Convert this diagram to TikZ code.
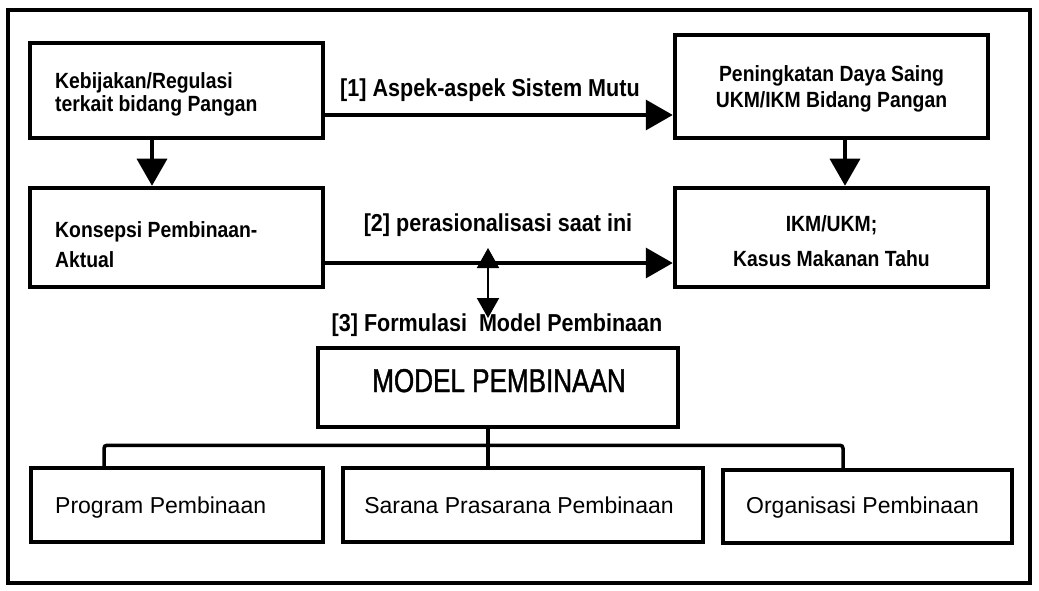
\documentclass[tikz,border=0pt]{standalone}
\usepackage{fontspec}
\setmainfont{Liberation Sans}
\newfontfamily\lab{Liberation Sans}[FakeStretch=0.88]
\newfontfamily\mdl{Liberation Sans}[FakeStretch=0.79,FakeBold=1.2]
\usetikzlibrary{arrows.meta,calc}
\begin{document}
\begin{tikzpicture}[x=1pt,y=-1pt,
  topbox/.style={draw=black,line width=4.5pt,inner sep=0pt},
  botbox/.style={draw=black,line width=3.5pt,inner sep=0pt},
  arr/.style={line width=3.5pt,-{Triangle[width=30pt,length=27pt]}},
  dblarr/.style={line width=2pt,{Triangle[width=22pt,length=20pt]}-{Triangle[width=22pt,length=20pt]}},
  tree/.style={line width=3.5pt},
  lbl/.style={inner sep=0pt,anchor=base,font=\lab\bfseries\fontsize{24.5}{28}\selectfont},
  btxt/.style={inner sep=0pt},
  rtxt/.style={inner sep=0pt,anchor=base,font=\fontsize{23}{26}\selectfont}
]
\useasboundingbox (0,0) rectangle (1039,591);
\draw[line width=4.5pt] (8,10) rectangle (1030,583);

% top boxes
\node[topbox,minimum width=293pt,minimum height=95pt] (kb) at (176.5,90.5) {};
\node[topbox,minimum width=293pt,minimum height=99pt] (kp) at (176.5,237.5) {};
\node[topbox,minimum width=313pt,minimum height=103pt] (pd) at (831.5,86.5) {};
\node[topbox,minimum width=313pt,minimum height=99pt] (ik) at (831.5,237.5) {};

\node[btxt,anchor=north west,align=left,font=\lab\bfseries\fontsize{22}{23}\selectfont] (kbt) at (55,72)
      {Kebijakan/Regulasi\\terkait bidang Pangan};
\node[btxt,anchor=north west,align=left,font=\lab\bfseries\fontsize{22}{29.5}\selectfont] (kpt) at (55,221.5)
      {Konsepsi Pembinaan-\\Aktual};
\node[btxt,anchor=north,align=center,font=\lab\bfseries\fontsize{22}{26.7}\selectfont] (pdt) at (831.5,65)
      {Peningkatan Daya Saing\\UKM/IKM Bidang Pangan};
\node[btxt,anchor=north,align=center,font=\lab\bfseries\fontsize{22}{35}\selectfont] (ikt) at (831.5,215)
      {IKM/UKM;\\Kasus Makanan Tahu};

% arrows
\draw[arr] ([xshift=-24.5pt]kb.south) -- ([xshift=-24.5pt]kp.north);
\draw[arr] ([xshift=13.5pt]pd.south) -- ([xshift=13.5pt]ik.north);
\draw[arr] ([yshift=-24.5pt]kb.east) -- ([yshift=-24.5pt]kb.east -| pd.west);
\draw[arr] ([yshift=-25.5pt]kp.east) -- ([yshift=-25.5pt]kp.east -| ik.west);

% labels
\node[lbl] (l1) at (490,96.5) {[1] Aspek-aspek Sistem Mutu};
\node[lbl] (l2) at (498,231.5) {[2] perasionalisasi saat ini};
\node[lbl] (l3) at (497,331.5) {[3] Formulasi\ \ Model Pembinaan};

% double arrow
\coordinate (da1) at (488,248);
\coordinate (da2) at (488,318);
\draw[dblarr] (da2) -- (da1);

% model box
\node[topbox,line width=4pt,minimum width=360pt,minimum height=79pt] (mp) at (498,387.5) {};
\node[inner sep=0pt,anchor=base,font=\mdl\fontsize{33}{36}\selectfont] (mpt) at (499,392) {MODEL PEMBINAAN};

% bottom boxes
\node[botbox,minimum width=292pt,minimum height=74pt] (pg) at (177,505) {};
\node[botbox,minimum width=360pt,minimum height=74pt] (sp) at (523,505) {};
\node[botbox,minimum width=289pt,minimum height=73pt] (og) at (867.5,506.5) {};
\node[rtxt,anchor=base west] (pgt) at (55,513) {Program Pembinaan};
\node[rtxt] (spt) at (519,513) {Sarana Prasarana Pembinaan};
\node[rtxt] (ogt) at (862.5,513) {Organisasi Pembinaan};

% tree
\draw[tree] ([xshift=-10pt]mp.south) -- ([xshift=-35pt]sp.north);
\draw[tree,rounded corners=3pt] ([xshift=-73pt]pg.north) -- ++(0,-21) -| ([xshift=-24.5pt]og.north);
\end{tikzpicture}
\end{document}
